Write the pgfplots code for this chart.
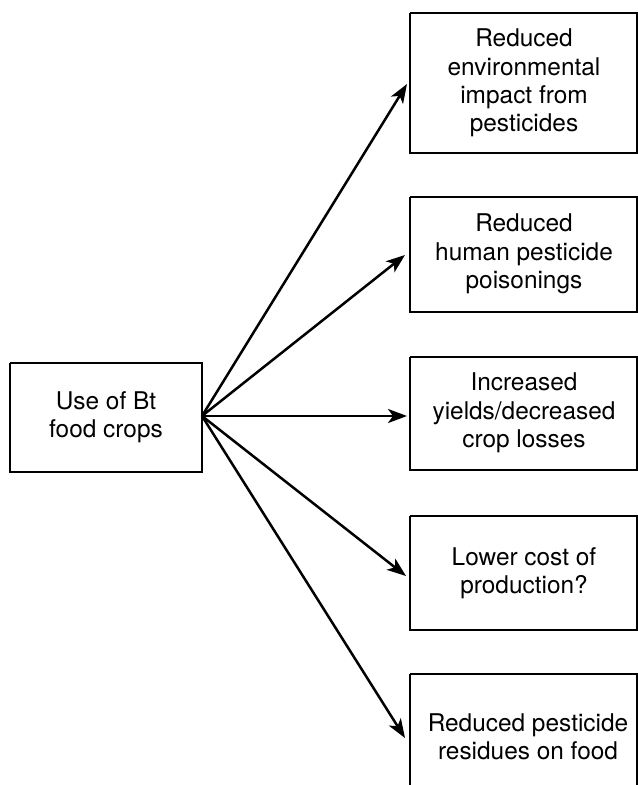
\documentclass[border=0pt]{standalone}
\usepackage{fontspec}
\setmainfont{TeX Gyre Heros}
\usepackage{pgfplots}
\pgfplotsset{compat=1.18}
\usetikzlibrary{arrows.meta}
\tikzset{
  boxline/.style={black, line width=1.8bp, mark=none},
  arr/.style={black, line width=2.5bp, mark=none, -{Stealth[length=19bp,width=14bp,inset=5bp]}},
  lbl/.style={align=center, font=\fontsize{24.5}{28.5}\selectfont, inner sep=0pt}
}
\begin{document}
\begin{tikzpicture}
\begin{axis}[
  scale only axis, width=638bp, height=785bp,
  xmin=0, xmax=638, ymin=0, ymax=785, y dir=reverse,
  hide axis, clip=true
]
\coordinate (tl) at (axis cs:0,0);
\coordinate (br) at (axis cs:638,785);
% boxes
\addplot[boxline] coordinates {(10,363) (202,363) (202,472) (10,472) (10,363)};
\addplot[boxline] coordinates {(410,13) (637,13) (637,153) (410,153) (410,13)};
\addplot[boxline] coordinates {(410,197) (637,197) (637,312) (410,312) (410,197)};
\addplot[boxline] coordinates {(410,357) (637,357) (637,470) (410,470) (410,357)};
\addplot[boxline] coordinates {(410,516) (637,516) (637,630) (410,630) (410,516)};
\addplot[boxline] coordinates {(410,674) (637,674) (637,800) (410,800) (410,674)};
% arrows
\addplot[arr] coordinates {(202,416) (407,84)};
\addplot[arr] coordinates {(202,416) (405,255)};
\addplot[arr] coordinates {(202,416) (407,416)};
\addplot[arr] coordinates {(202,416) (406,576)};
\addplot[arr] coordinates {(202,416) (405,738)};
% labels
\node[lbl] at (axis cs:106,417) {Use of Bt\\food crops};
\node[lbl] at (axis cs:524,83) {Reduced\\environmental\\impact from\\pesticides};
\node[lbl] at (axis cs:524,254) {Reduced\\human pesticide\\poisonings};
\node[lbl] at (axis cs:524,413) {Increased\\yields/decreased\\crop losses};
\node[lbl] at (axis cs:524,573) {Lower cost of\\production?};
\node[lbl] at (axis cs:528,737) {Reduced pesticide\\residues on food};
\end{axis}
\pgfresetboundingbox
\path[use as bounding box] (tl) rectangle (br);
\end{tikzpicture}
\end{document}
